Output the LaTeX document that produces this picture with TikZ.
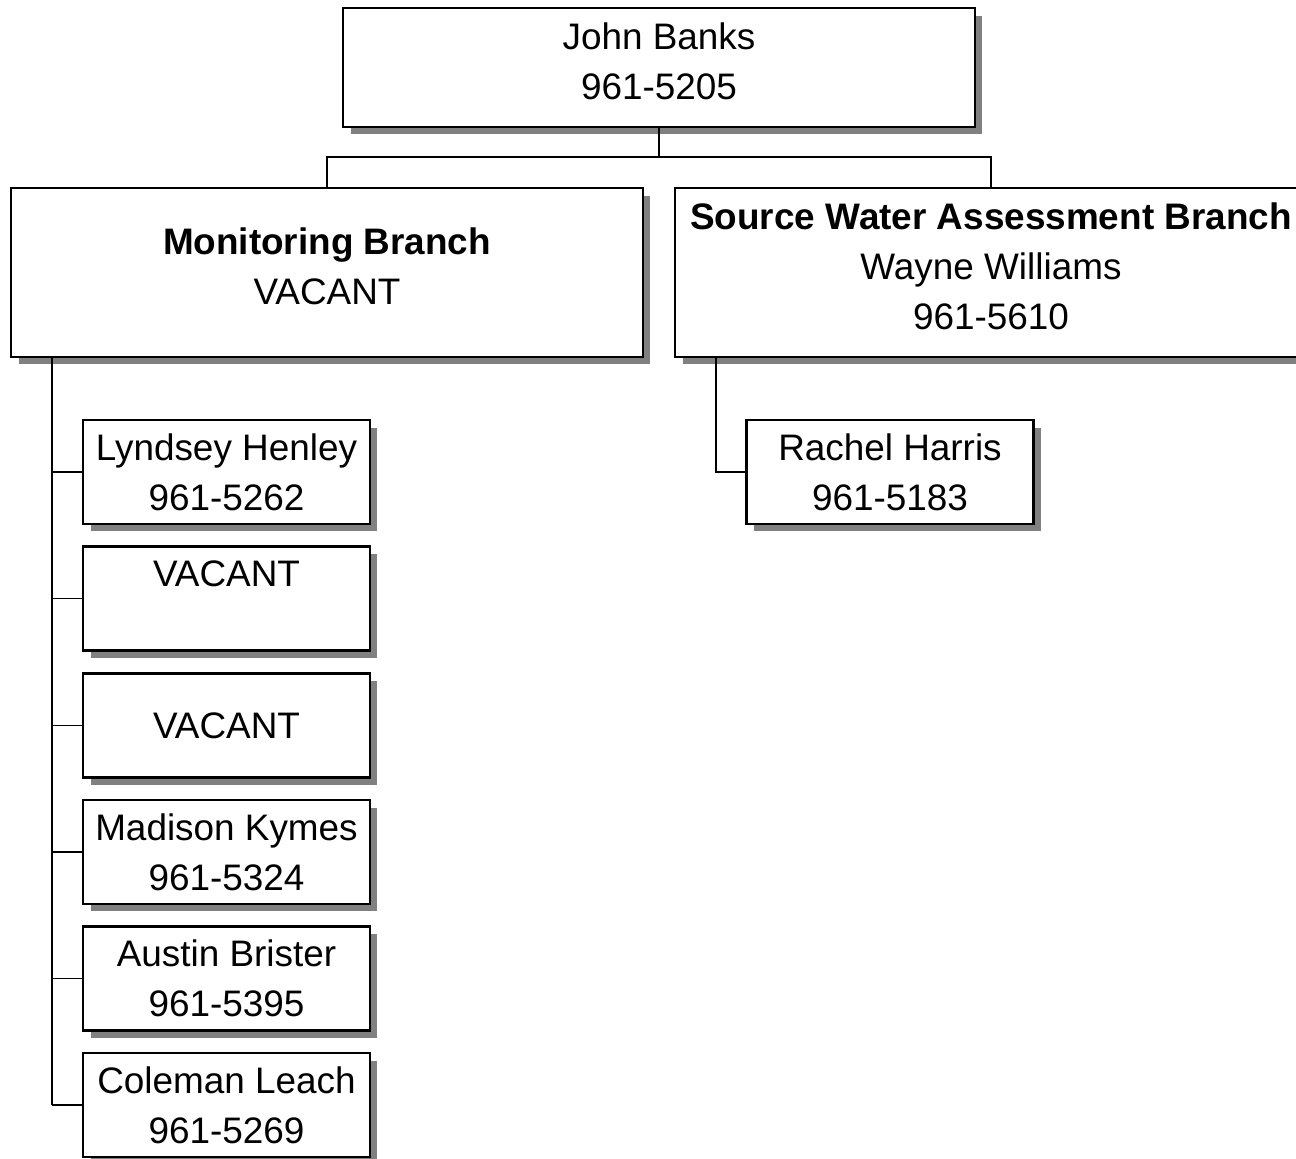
\documentclass[tikz,border=0pt]{standalone}
\usepackage{fontspec}
\setmainfont{Liberation Sans}
\usepackage{tikz}
\usetikzlibrary{shadows, positioning}
\tikzstyle{box} = [rectangle, draw, line width=1.2pt, fill=white, align=center, inner sep=0pt,
	font=\fontsize{21}{28.5}\selectfont,
	drop shadow={shadow xshift=0.15cm, shadow yshift=-0.15cm, fill=gray, opacity=1}]
\tikzstyle{bigbox} = [box, minimum width=12.64cm, execute at end node={\rule[-0.24cm]{0pt}{0.24cm}}]
\tikzstyle{smallbox} = [box, minimum width=5.74cm, minimum height=2.08cm]
\tikzstyle{line} = [draw, line width=1.1pt]

\begin{document}
\begin{tikzpicture}[x=0.02cm, y=-0.02cm]
			\useasboundingbox (0,0) rectangle (1296,1159);
			\node [bigbox, minimum height=2.38cm] (boss) at (659,67.5) {John Banks\\961-5205};
			\node [bigbox, minimum height=3.38cm] (mon) at (327,272.5) {\textbf{Monitoring Branch}\\VACANT};
			\node [bigbox, minimum height=3.38cm] (swa) at (991,272.5) {\textbf{Source Water Assessment Branch}\\Wayne Williams\\961-5610};

			\node [smallbox] (lh) at (226.5,472) {Lyndsey Henley\\961-5262};
			\node [smallbox] (vac1) at (226.5,598.5) {VACANT\\\mbox{}};
			\node [smallbox] (vac2) at (226.5,725.5) {VACANT};
			\node [smallbox] (mk) at (226.5,852) {Madison Kymes\\961-5324};
			\node [smallbox] (ab) at (226.5,978.5) {Austin Brister\\961-5395};
			\node [smallbox] (cl) at (226.5,1105) {Coleman Leach\\961-5269};
			\node [smallbox] (rh) at (890,472) {Rachel Harris\\961-5183};

			\coordinate (bus) at (659,157);
			\coordinate (spine) at (52,1105);
			\coordinate (rhtap) at (716,472);

			\path [line] (boss.south) -- (bus);
			\path [line] (mon.north) |- (bus) -| (swa.north);
			\path [line] (mon.south -| spine) -- (spine);
			\path [line] (spine |- lh.west) -- (lh.west);
			\path [line] (spine |- vac1.west) -- (vac1.west);
			\path [line] (spine |- vac2.west) -- (vac2.west);
			\path [line] (spine |- mk.west) -- (mk.west);
			\path [line] (spine |- ab.west) -- (ab.west);
			\path [line] (spine) -- (cl.west);
			\path [line] (swa.south -| rhtap) |- (rh.west);
		\end{tikzpicture}
\end{document}
